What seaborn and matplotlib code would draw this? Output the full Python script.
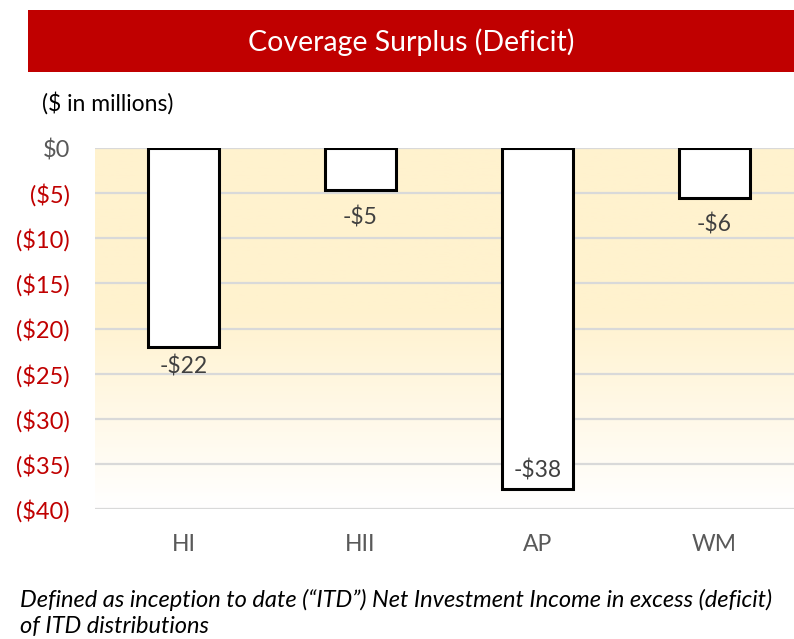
import numpy as np
import pandas as pd
import matplotlib
matplotlib.use("Agg")
import matplotlib.pyplot as plt
from matplotlib.patches import Rectangle
import seaborn as sns

# data ($ in millions)
funds = ["HI", "HII", "AP", "WM"]
surplus = [-22.0, -4.7, -37.8, -5.5]
yticks = [0, -5, -10, -15, -20, -25, -30, -35, -40]

title = "Coverage Surplus (Deficit)"
subtitle = "($ in millions)"
footnote = ("Defined as inception to date (\u201cITD\u201d) Net Investment Income in excess (deficit)\n"
            "of ITD distributions")

red = "#C00000"
grey = "#595959"

sns.set_style("white")
plt.rcParams["font.family"] = ["Lato", "DejaVu Sans"]

df = pd.DataFrame({"fund": funds, "value": surplus})

fig = plt.figure(figsize=(7.94, 6.39), dpi=100)
ax = fig.add_axes([95 / 794, 130 / 639, 1 - 95 / 794, 361 / 639])

# background gradient, light yellow fading to white
t = np.linspace(0, 1, 256)
fade = np.clip((t - 0.45) / 0.55, 0, 1)
top = np.array([255, 242, 206]) / 255
grad = top[None, :] * (1 - fade[:, None]) + fade[:, None]
ax.imshow(grad[:, None, :], extent=[-0.5, 3.45, -40, 0], aspect="auto", zorder=0, origin="upper")

sns.barplot(data=df, x="fund", y="value", order=funds, color="white", saturation=1,
            edgecolor="black", linewidth=2.2, width=0.4, ax=ax, zorder=3)

ax.set_xlim(-0.5, 3.45)
ax.set_ylim(-40, 0)
ax.set_yticks(yticks)
ax.set_yticklabels(["$0" if v == 0 else f"(${abs(v)})" for v in yticks])
for lab, v in zip(ax.get_yticklabels(), yticks):
    lab.set_color(grey if v == 0 else red)
ax.tick_params(axis="y", length=0, pad=18, labelsize=17)
ax.tick_params(axis="x", length=0, pad=18, labelsize=16.5, labelcolor=grey)
ax.set_xlabel("")
ax.set_ylabel("")
ax.grid(axis="y", color="#D9D9D9", lw=1.6, zorder=1)
ax.set_axisbelow(True)
for s in ax.spines.values():
    s.set_visible(False)

# data labels
pads = [9, 16, 16, 16]
for i, v in enumerate(surplus):
    txt = f"-${abs(v):.0f}"
    if v < -30:
        ax.annotate(txt, (i, v), xytext=(0, 8), textcoords="offset pixels",
                    ha="center", va="bottom", fontsize=16.5, color="#404040", zorder=5)
    else:
        ax.annotate(txt, (i, v), xytext=(0, -pads[i]), textcoords="offset pixels",
                    ha="center", va="top", fontsize=16.5, color="#404040", zorder=5)

# title banner
fig.patches.append(Rectangle((28 / 794, 1 - 72 / 639), 1, 62 / 639, transform=fig.transFigure,
                             facecolor=red, edgecolor="none", zorder=0))
fig.text((28 + 794) / 2 / 794, 1 - 42 / 639, title, ha="center", va="center",
         color="white", fontsize=20.5)
fig.text(42 / 794, 1 - 103 / 639, subtitle, ha="left", va="center", fontsize=16.5, color="black")
fig.text(20 / 794, 1 - 613 / 639, footnote, ha="left", va="center", fontsize=17,
         style="italic", color="black", linespacing=1.25)

fig.savefig("out.png", dpi=100)
